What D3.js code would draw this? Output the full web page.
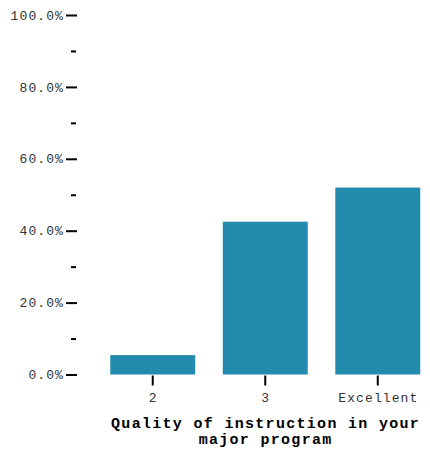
<!DOCTYPE html>
<html><head><meta charset="utf-8">
<script src="https://cdn.jsdelivr.net/npm/d3@7"></script>
<style>body{margin:0;background:#fff}</style>
</head><body>
<svg id="c" width="430" height="449"></svg>
<script>
const categories = ["2", "3", "Excellent"];
const values = [0.054, 0.425, 0.52];
const majorTicks = [0, 0.2, 0.4, 0.6, 0.8, 1.0];
const minorTicks = [0.1, 0.3, 0.5, 0.7, 0.9];
const titleLines = ["Quality of instruction in your", "major program"];

const svg = d3.select("#c");
const font = "'Liberation Mono', 'Courier New', monospace";
const y = d3.scaleLinear().domain([0, 1]).range([374.5, 15]);
const x = d3.scaleBand().domain(categories).range([99, 431.5]).paddingInner(0.245).paddingOuter(0.1);

svg.selectAll("rect.bar").data(values).enter().append("rect")
  .attr("class", "bar")
  .attr("x", (d, i) => x(categories[i]))
  .attr("width", x.bandwidth())
  .attr("y", d => y(d))
  .attr("height", d => y(0) - y(d))
  .attr("fill", "#238bad");

const yMajor = svg.append("g").attr("transform", "translate(77,0)")
  .call(d3.axisLeft(y).tickValues(majorTicks).tickSize(11).tickPadding(2).tickFormat(d3.format(".1%")));
const yMinor = svg.append("g").attr("transform", "translate(76,0)")
  .call(d3.axisLeft(y).tickValues(minorTicks).tickSize(5).tickFormat(""));
const xAxis = svg.append("g").attr("transform", "translate(0,375.5)")
  .call(d3.axisBottom(x).tickSize(10).tickPadding(7));

[yMajor, yMinor, xAxis].forEach(g => {
  g.select(".domain").remove();
  g.selectAll(".tick line").attr("stroke", "#000").attr("stroke-width", 2);
  g.selectAll(".tick text").attr("font-family", font).attr("font-size", 13)
    .attr("letter-spacing", "1.1px").attr("fill", "#333");
});
xAxis.selectAll(".tick text").attr("dx", "0.55px");

svg.append("text")
  .attr("x", 265).attr("y", 428)
  .attr("text-anchor", "middle")
  .attr("font-family", font).attr("font-size", 15).attr("font-weight", "bold")
  .attr("letter-spacing", "1.3px")
  .attr("fill", "#000")
  .selectAll("tspan").data(titleLines).enter().append("tspan")
  .attr("x", 265.6).attr("dy", (d, i) => i === 0 ? 0 : 16)
  .text(d => d);
</script>
</body></html>
